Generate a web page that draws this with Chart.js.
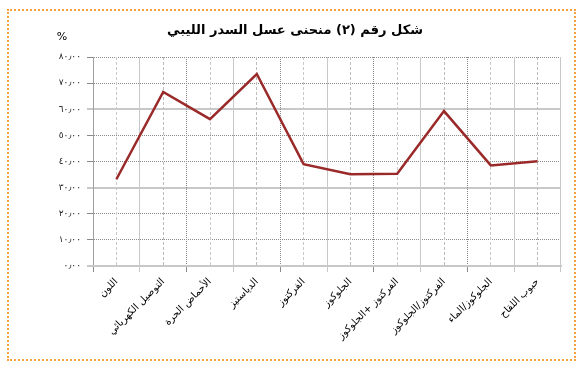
<!DOCTYPE html>
<html>
<head>
<meta charset="utf-8">
<script src="https://cdn.jsdelivr.net/npm/chart.js@4"></script>
<style>
  html, body { margin: 0; padding: 0; background: #fff; }
  #wrap { position: relative; width: 583px; height: 369px; }
  #frame { position: absolute; left: 7px; top: 9px; width: 565px; height: 348px; border: 2px dotted #f7a040; pointer-events: none; }
</style>
</head>
<body>
<div id="wrap">
  <canvas id="chart" width="583" height="369"></canvas>
  <div id="frame"></div>
</div>
<script>
'use strict';

const chart_title = 'شكل رقم (٢) منحنى عسل السدر الليبي';
const unit_label = '%';

const categories = [
    'اللون',
    'التوصيل الكهربائي',
    'الأحماض الحرة',
    'الدياستيز',
    'الفركتوز',
    'الجلوكوز',
    'الفركتوز +الجلوكوز',
    'الفركتوز/الجلوكوز',
    'الجلوكوز/الماء',
    'حبوب اللقاح'
];

const honey_values = [33.2, 66.6, 56.2, 73.5, 39.0, 35.1, 35.3, 59.3, 38.5, 40.1];

const y_tick_labels = {
    0: '٠٫٠٠', 10: '١٠٫٠٠', 20: '٢٠٫٠٠', 30: '٣٠٫٠٠', 40: '٤٠٫٠٠',
    50: '٥٠٫٠٠', 60: '٦٠٫٠٠', 70: '٧٠٫٠٠', 80: '٨٠٫٠٠'
};

const FONT = "'DejaVu Sans', Arial, sans-serif";

// title and the % sign above the y axis
const header_plugin = {
    id: 'header',
    afterDraw: chart => {
        const ctx = chart.ctx;
        ctx.save();
        ctx.fillStyle = '#000';
        ctx.textBaseline = 'middle';
        ctx.textAlign = 'center';
        ctx.font = `bold 13px ${FONT}`;
        ctx.fillText(chart_title, 295, 31);
        ctx.font = `11px ${FONT}`;
        ctx.fillText(unit_label, 62, 37);
        ctx.restore();
    }
};

const heavy_line = v => v % 30 === 0;

new Chart(document.querySelector('#chart'), {
    type: 'line',
    data: {
        labels: categories,
        datasets: [{
            data: honey_values,
            borderColor: '#9a2a2a',
            borderWidth: 2.5,
            pointRadius: 0,
            tension: 0,
            fill: false
        }]
    },
    options: {
        responsive: false,
        animation: false,
        layout: { padding: { left: 10, top: 57, right: 22, bottom: 0 } },
        plugins: {
            legend: { display: false },
            title: { display: false },
            tooltip: { enabled: false }
        },
        scales: {
            y: {
                min: 0,
                max: 80,
                afterFit: scale => { scale.width = 83; },
                ticks: {
                    stepSize: 10,
                    color: '#222',
                    font: { family: FONT, size: 9 },
                    padding: 6,
                    callback: v => y_tick_labels[v]
                },
                grid: {
                    color: ctx => heavy_line(ctx.tick.value) ? '#c8c8c8' : '#8a8a8a',
                    lineWidth: ctx => heavy_line(ctx.tick.value) ? 2 : 1,
                    tickLength: 6,
                    drawTicks: true
                },
                border: {
                    display: true,
                    color: '#a0a0a0',
                    width: 1,
                    dash: ctx => (ctx.tick && heavy_line(ctx.tick.value)) ? [] : [1, 1]
                }
            },
            x: {
                offset: true,
                afterFit: scale => { scale.height = 103; },
                ticks: {
                    autoSkip: false,
                    minRotation: 45,
                    maxRotation: 45,
                    color: '#000',
                    font: { family: FONT, size: 10 },
                    padding: 4
                },
                grid: {
                    offset: true,
                    color: ctx => ctx.index % 2 === 0 ? '#8a8a8a' : '#c8c8c8',
                    lineWidth: 1,
                    tickLength: 6
                },
                border: {
                    display: true,
                    color: '#c8c8c8',
                    width: 2,
                    dash: ctx => (ctx.index % 2 === 0) ? [1, 1] : []
                }
            },
            x_mid: {
                type: 'category',
                position: 'bottom',
                labels: categories,
                offset: true,
                afterFit: scale => { scale.height = 0; },
                ticks: { display: false },
                grid: {
                    offset: false,
                    color: ctx => ctx.index % 2 === 0 ? '#c8c8c8' : '#bcbcbc',
                    lineWidth: 1,
                    drawTicks: false
                },
                border: { display: false, dash: [3, 2] }
            }
        }
    },
    plugins: [header_plugin]
});
</script>
</body>
</html>
